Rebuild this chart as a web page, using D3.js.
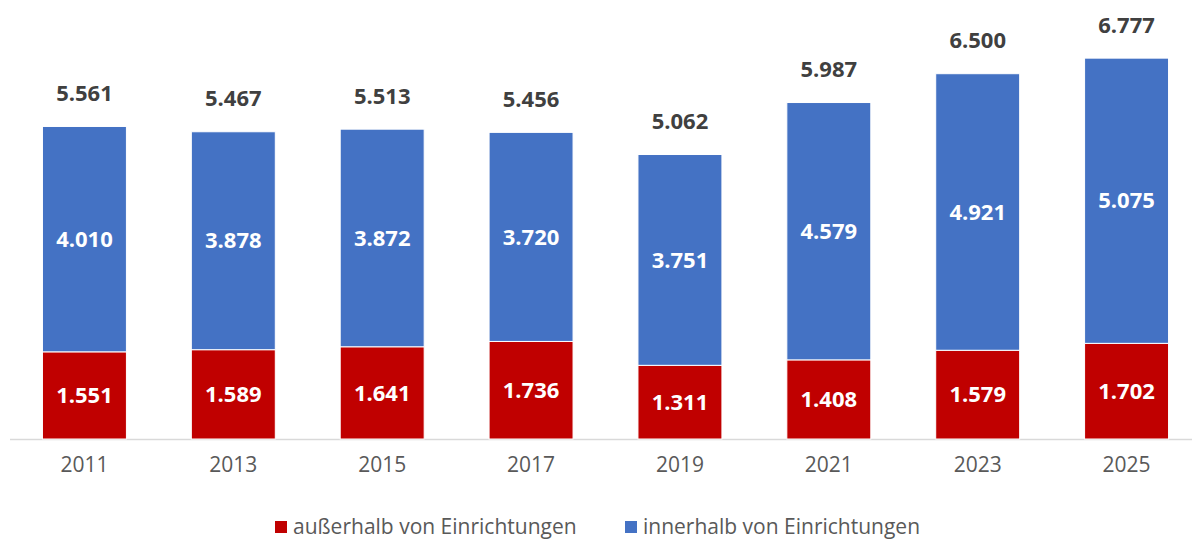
<!DOCTYPE html>
<html>
<head>
<meta charset="utf-8">
<script src="https://cdn.jsdelivr.net/npm/d3@7"></script>
<style>
  body { margin: 0; background: #fff; }
  svg { display: block; font-family: "Open Sans", sans-serif; }
</style>
</head>
<body>
<div id="graph"></div>
<script>
// Data
const years = ["2011", "2013", "2015", "2017", "2019", "2021", "2023", "2025"];
const outside = [1551, 1589, 1641, 1736, 1311, 1408, 1579, 1702];
const inside = [4010, 3878, 3872, 3720, 3751, 4579, 4921, 5075];
const totals = [5561, 5467, 5513, 5456, 5062, 5987, 6500, 6777];

const seriesNames = ["außerhalb von Einrichtungen", "innerhalb von Einrichtungen"];
const seriesColors = ["#C00000", "#4472C4"];

const width = 1192, height = 540;
const fmt = v => d3.format(",")(v).replace(/,/g, ".");

const svg = d3.select("#graph").append("svg")
  .attr("width", width).attr("height", height);

const x = d3.scaleBand().domain(years).range([10, 1201]).paddingInner(0.436).paddingOuter(0.218);
const y = d3.scaleLinear().domain([0, 7000]).range([439, 439 - 7000 * 0.0562]);

const rows = years.map((yr, i) => ({ year: yr, outside: outside[i], inside: inside[i], total: totals[i] }));
const stack = d3.stack().keys(["outside", "inside"])(rows);

// axis line
svg.append("line")
  .attr("x1", 10).attr("x2", width).attr("y1", y(0) + 0.5).attr("y2", y(0) + 0.5)
  .attr("stroke", "#d9d9d9").attr("stroke-width", 1.5);

const layers = svg.selectAll(".layer").data(stack).enter().append("g")
  .attr("fill", (d, i) => seriesColors[i]);

layers.selectAll("rect").data(d => d).enter().append("rect")
  .attr("x", d => x(d.data.year))
  .attr("width", x.bandwidth())
  .attr("y", d => y(d[1]))
  .attr("height", d => y(d[0]) - y(d[1]))
  .attr("stroke", "#fff").attr("stroke-width", 1);

// segment labels
layers.selectAll("text").data(d => d).enter().append("text")
  .attr("x", d => x(d.data.year) + x.bandwidth() / 2)
  .attr("y", d => (y(d[0]) + y(d[1])) / 2)
  .attr("dy", "0.35em")
  .attr("text-anchor", "middle")
  .attr("fill", "#fff")
  .style("font-size", "22px").style("font-weight", "bold")
  .text(d => fmt(d[1] - d[0]));

// totals
svg.selectAll(".total").data(rows).enter().append("text")
  .attr("x", d => x(d.year) + x.bandwidth() / 2)
  .attr("y", d => y(d.total) - 33)
  .attr("dy", "0.35em")
  .attr("text-anchor", "middle")
  .attr("fill", "#404040")
  .style("font-size", "22px").style("font-weight", "bold")
  .text(d => fmt(d.total));

// x axis labels
const xAxis = svg.append("g").attr("transform", `translate(0, ${y(0)})`)
  .call(d3.axisBottom(x).tickSize(0).tickPadding(18));
xAxis.select(".domain").remove();
xAxis.selectAll("text").attr("fill", "#595959")
  .style("font-size", "21px").style("font-family", "Open Sans, sans-serif");

// legend
const legendX = [275, 625];
const legend = svg.selectAll(".legend").data(seriesNames).enter().append("g")
  .attr("transform", (d, i) => `translate(${legendX[i]}, 527)`);
legend.append("rect").attr("x", 0).attr("y", -6).attr("width", 12).attr("height", 12)
  .attr("fill", (d, i) => seriesColors[i]);
legend.append("text").attr("x", 18).attr("dy", "0.35em")
  .attr("fill", "#595959").style("font-size", "21px")
  .text(d => d);
</script>
</body>
</html>
